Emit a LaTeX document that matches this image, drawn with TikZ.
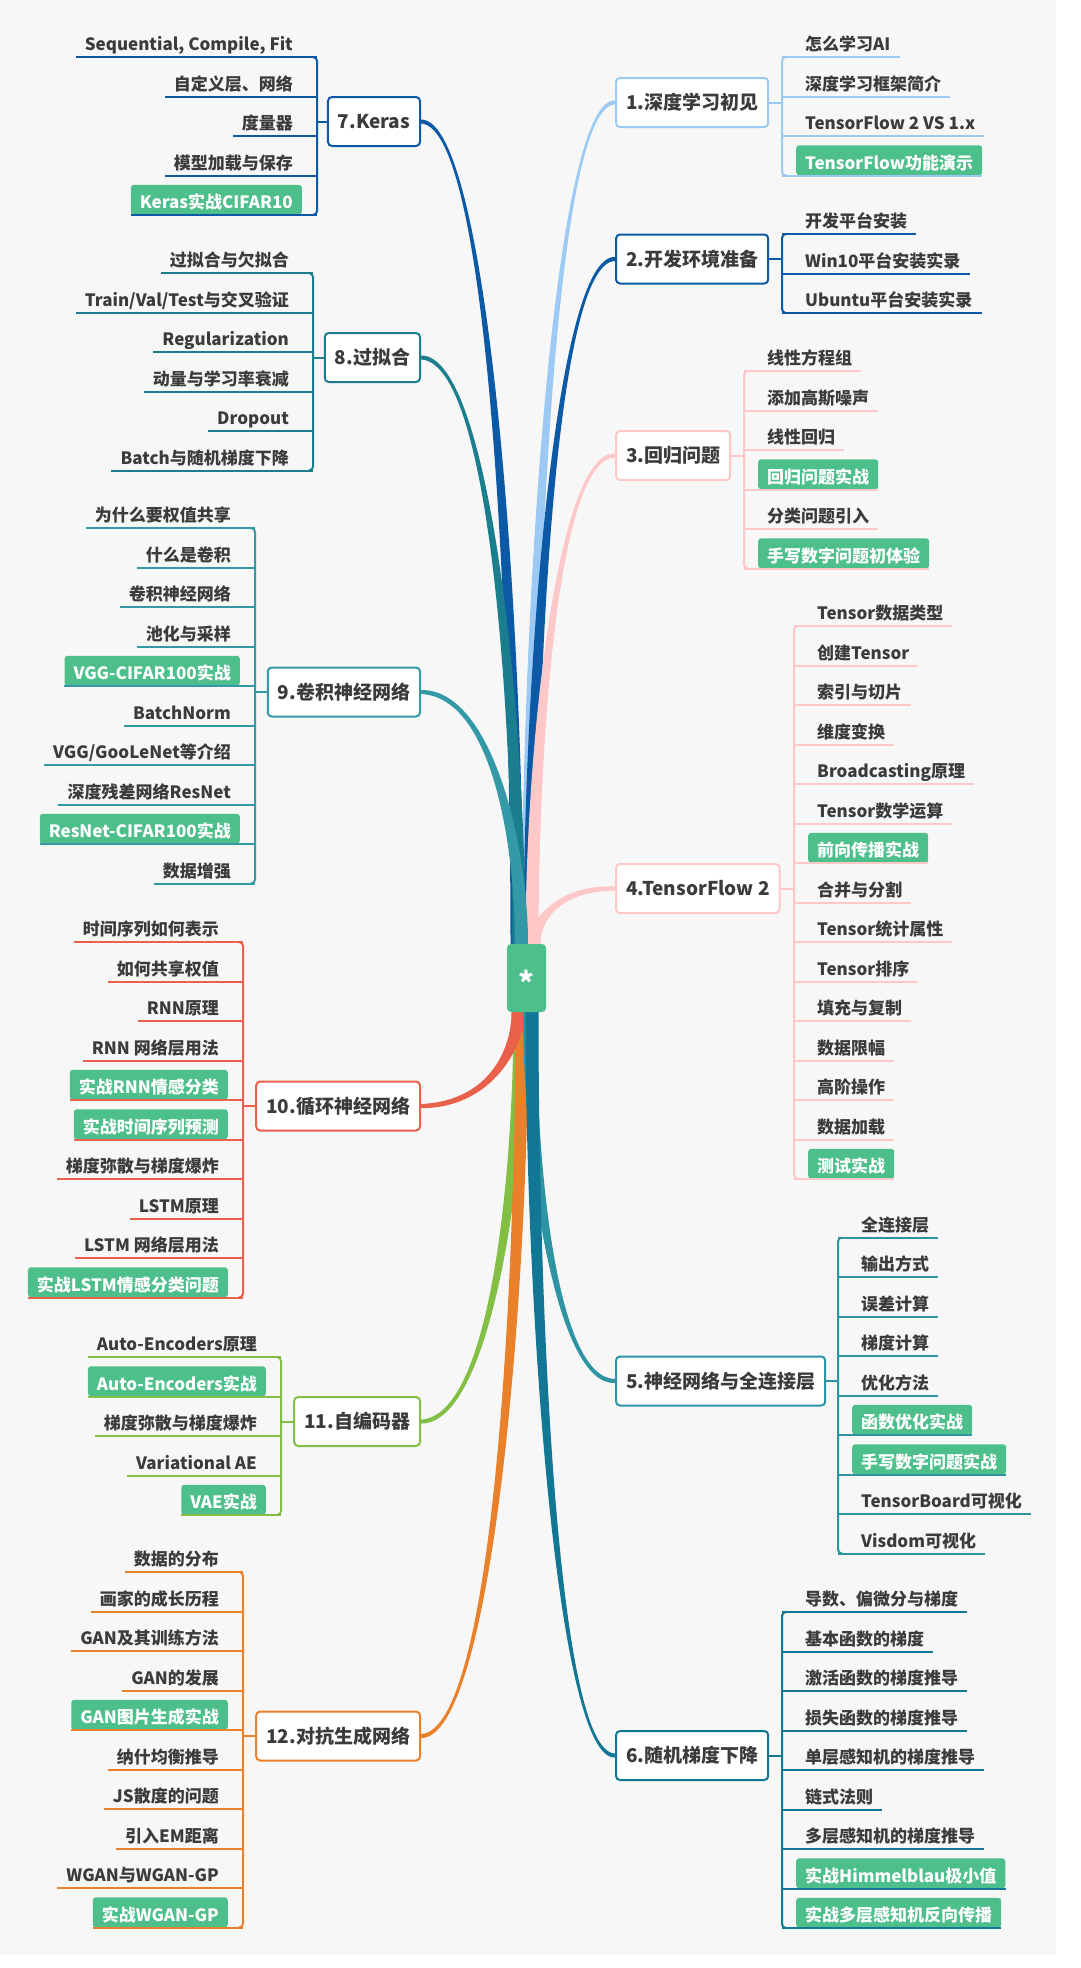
\documentclass[tikz,border=0pt]{standalone}
\usepackage{fontspec}
\setmainfont{Noto Sans CJK SC}
\usetikzlibrary{calc}
\pgfdeclarelayer{back}
\pgfdeclarelayer{stems}
\pgfsetlayers{back,stems,main}
\definecolor{bgc}{HTML}{F7F7F7}
\definecolor{txt}{HTML}{3B3B3B}
\definecolor{gfill}{HTML}{4DBF8B}
\definecolor{c1}{HTML}{9CCAF5}
\definecolor{c2}{HTML}{0C5AA6}
\definecolor{c3}{HTML}{FFC8C8}
\definecolor{c5}{HTML}{2E93A3}
\definecolor{c6}{HTML}{127794}
\definecolor{c8}{HTML}{1A7E8E}
\definecolor{c9}{HTML}{3499A7}
\definecolor{c10}{HTML}{E9604B}
\definecolor{c11}{HTML}{82BF44}
\definecolor{c12}{HTML}{E9802A}
\tikzset{
  leaf/.style={font=\fontsize{17}{20}\selectfont\bfseries, text=txt, inner xsep=9pt, inner ysep=0pt, text height=24pt, text depth=6pt},
  gleaf/.style={leaf, fill=gfill, text=white, rounded corners=3pt},
  mbox/.style={draw=#1, line width=2pt, fill=white, rounded corners=4pt, font=\fontsize{19}{22}\selectfont\bfseries, text=txt, inner xsep=10pt, inner ysep=0pt, minimum height=49pt},
  ul/.style={draw=#1, line width=2pt},
  hub/.style={fill=gfill, rounded corners=4pt, minimum width=39pt, minimum height=68pt, inner sep=0pt, text=white, font=\fontsize{30}{30}\selectfont\bfseries, text height=40pt, text depth=7pt}
}
% right-side leaf: name, bracket x, underline y, style, text
\newcommand\LR[5]{\node[#4, anchor=south west] (#1) at ({#2+14},#3) {#5};
  \draw[ul=\bc] (#2,#3) -- (#1.south east);}
% left-side leaf
\newcommand\LL[5]{\node[#4, anchor=south east] (#1) at ({#2-15},#3) {#5};
  \draw[ul=\bc] (#2,#3) -- (#1.south west);}
% tapered stem: colour, hub anchor, x offset, box anchor, sign (+1/-1)
\newcommand\stem[5]{\fill[#1] let \p1=($(#2)+(#3,0)$), \p2=(#4) in
  (\x1-6.5,\y1) .. controls (\x1-6.5,{\y2+0.6*(\y1-\y2)}) and ({\x2+0.7*(\x1-\x2)},{\y2+5*(#5)}) .. (\x2,{\y2+2*(#5)})
  -- (\x2,{\y2-2*(#5)}) .. controls ({\x2+0.7*(\x1-\x2)},{\y2-3*(#5)}) and (\x1+6.5,{\y2+0.6*(\y1-\y2)}) .. (\x1+6.5,\y1) -- cycle;}
\begin{document}
\begin{tikzpicture}[x=1pt,y=-1pt]
\useasboundingbox (0,0) rectangle (1080,1968);
\begin{pgfonlayer}{back}
\fill[white] (0,0) rectangle (1080,1968);
\fill[bgc] (0,0) rectangle (1056,1955);
\end{pgfonlayer}

\node[hub] (c) at (526.5,978) {*};

% ---------- Branch 1
\def\bc{c1}
\node[mbox=c1, anchor=west] (n1) at (615,102.5) {1.深度学习初见};
\coordinate (k1) at (782,102.5);
\LR{a1}{782}{57}{leaf}{怎么学习AI}
\LR{a2}{782}{96.5}{leaf}{深度学习框架简介}
\LR{a3}{782}{136}{leaf}{TensorFlow 2 VS 1.x}
\LR{a4}{782}{175.5}{gleaf}{TensorFlow功能演示}
\draw[ul=c1, rounded corners=4pt] (786,57) -- (782,57) -- (782,175.5) -- (786,175.5);
\draw[ul=c1] (n1.east) -- (k1);

% ---------- Branch 2
\def\bc{c2}
\node[mbox=c2, anchor=west] (n2) at (615,259) {2.开发环境准备};
\coordinate (k2) at (782,259);
\LR{b1}{782}{234}{leaf}{开发平台安装}
\LR{b2}{782}{273.5}{leaf}{Win10平台安装实录}
\LR{b3}{782}{313}{leaf}{Ubuntu平台安装实录}
\draw[ul=c2, rounded corners=4pt] (786,234) -- (782,234) -- (782,313) -- (786,313);
\draw[ul=c2] (n2.east) -- (k2);

% ---------- Branch 3
\def\bc{c3}
\node[mbox=c3, anchor=west] (n3) at (615,455.5) {3.回归问题};
\coordinate (k3) at (744,455.5);
\LR{d1}{744}{371}{leaf}{线性方程组}
\LR{d2}{744}{410.5}{leaf}{添加高斯噪声}
\LR{d3}{744}{450}{leaf}{线性回归}
\LR{d4}{744}{489.5}{gleaf}{回归问题实战}
\LR{d5}{744}{529}{leaf}{分类问题引入}
\LR{d6}{744}{568.5}{gleaf}{手写数字问题初体验}
\draw[ul=c3, rounded corners=4pt] (748,371) -- (744,371) -- (744,568.5) -- (748,568.5);
\draw[ul=c3] (n3.east) -- (k3);

% ---------- Branch 4
\def\bc{c3}
\node[mbox=c3, anchor=west] (n4) at (615,888.5) {4.TensorFlow 2};
\coordinate (k4) at (794,888.5);
\LR{e1}{794}{626}{leaf}{Tensor数据类型}
\LR{e2}{794}{665.5}{leaf}{创建Tensor}
\LR{e3}{794}{705}{leaf}{索引与切片}
\LR{e4}{794}{744.5}{leaf}{维度变换}
\LR{e5}{794}{784}{leaf}{Broadcasting原理}
\LR{e6}{794}{823.5}{leaf}{Tensor数学运算}
\LR{e7}{794}{863}{gleaf}{前向传播实战}
\LR{e8}{794}{902.5}{leaf}{合并与分割}
\LR{e9}{794}{942}{leaf}{Tensor统计属性}
\LR{e10}{794}{981.5}{leaf}{Tensor排序}
\LR{e11}{794}{1021}{leaf}{填充与复制}
\LR{e12}{794}{1060.5}{leaf}{数据限幅}
\LR{e13}{794}{1100}{leaf}{高阶操作}
\LR{e14}{794}{1139.5}{leaf}{数据加载}
\LR{e15}{794}{1179}{gleaf}{测试实战}
\draw[ul=c3, rounded corners=4pt] (798,626) -- (794,626) -- (794,1179) -- (798,1179);
\draw[ul=c3] (n4.east) -- (k4);

% ---------- Branch 5
\def\bc{c5}
\node[mbox=c5, anchor=west] (n5) at (615,1381) {5.神经网络与全连接层};
\coordinate (k5) at (838,1381);
\LR{f1}{838}{1237.5}{leaf}{全连接层}
\LR{f2}{838}{1277}{leaf}{输出方式}
\LR{f3}{838}{1316.5}{leaf}{误差计算}
\LR{f4}{838}{1356}{leaf}{梯度计算}
\LR{f5}{838}{1395.5}{leaf}{优化方法}
\LR{f6}{838}{1435}{gleaf}{函数优化实战}
\LR{f7}{838}{1474.5}{gleaf}{手写数字问题实战}
\LR{f8}{838}{1514}{leaf}{TensorBoard可视化}
\LR{f9}{838}{1553.5}{leaf}{Visdom可视化}
\draw[ul=c5, rounded corners=4pt] (842,1237.5) -- (838,1237.5) -- (838,1553.5) -- (842,1553.5);
\draw[ul=c5] (n5.east) -- (k5);

% ---------- Branch 6
\def\bc{c6}
\node[mbox=c6, anchor=west] (n6) at (615,1755.5) {6.随机梯度下降};
\coordinate (k6) at (782,1755.5);
\LR{g1}{782}{1612}{leaf}{导数、偏微分与梯度}
\LR{g2}{782}{1651.5}{leaf}{基本函数的梯度}
\LR{g3}{782}{1691}{leaf}{激活函数的梯度推导}
\LR{g4}{782}{1730.5}{leaf}{损失函数的梯度推导}
\LR{g5}{782}{1770}{leaf}{单层感知机的梯度推导}
\LR{g6}{782}{1809.5}{leaf}{链式法则}
\LR{g7}{782}{1849}{leaf}{多层感知机的梯度推导}
\LR{g8}{782}{1888.5}{gleaf}{实战Himmelblau极小值}
\LR{g9}{782}{1928}{gleaf}{实战多层感知机反向传播}
\draw[ul=c6, rounded corners=4pt] (786,1612) -- (782,1612) -- (782,1928) -- (786,1928);
\draw[ul=c6] (n6.east) -- (k6);

% ---------- Branch 7
\def\bc{c2}
\node[mbox=c2, anchor=east] (n7) at (421,121.5) {7.Keras};
\coordinate (k7) at (317,121.5);
\LL{h1}{317}{57}{leaf}{Sequential, Compile, Fit}
\LL{h2}{317}{96.5}{leaf}{自定义层、网络}
\LL{h3}{317}{136}{leaf}{度量器}
\LL{h4}{317}{175.5}{leaf}{模型加载与保存}
\LL{h5}{317}{215}{gleaf}{Keras实战CIFAR10}
\draw[ul=c2, rounded corners=4pt] (313,57) -- (317,57) -- (317,215) -- (313,215);
\draw[ul=c2] (n7.west) -- (k7);

% ---------- Branch 8
\def\bc{c8}
\node[mbox=c8, anchor=east] (n8) at (421,357.5) {8.过拟合};
\coordinate (k8) at (313,357.5);
\LL{i1}{313}{273}{leaf}{过拟合与欠拟合}
\LL{i2}{313}{312.5}{leaf}{Train/Val/Test与交叉验证}
\LL{i3}{313}{352}{leaf}{Regularization}
\LL{i4}{313}{391.5}{leaf}{动量与学习率衰减}
\LL{i5}{313}{431}{leaf}{Dropout}
\LL{i6}{313}{470.5}{leaf}{Batch与随机梯度下降}
\draw[ul=c8, rounded corners=4pt] (309,273) -- (313,273) -- (313,470.5) -- (309,470.5);
\draw[ul=c8] (n8.west) -- (k8);

% ---------- Branch 9
\def\bc{c9}
\node[mbox=c9, anchor=east] (n9) at (421,692) {9.卷积神经网络};
\coordinate (k9) at (255,692);
\LL{j1}{255}{528}{leaf}{为什么要权值共享}
\LL{j2}{255}{567.5}{leaf}{什么是卷积}
\LL{j3}{255}{607}{leaf}{卷积神经网络}
\LL{j4}{255}{646.5}{leaf}{池化与采样}
\LL{j5}{255}{686}{gleaf}{VGG-CIFAR100实战}
\LL{j6}{255}{725.5}{leaf}{BatchNorm}
\LL{j7}{255}{765}{leaf}{VGG/GooLeNet等介绍}
\LL{j8}{255}{804.5}{leaf}{深度残差网络ResNet}
\LL{j9}{255}{844}{gleaf}{ResNet-CIFAR100实战}
\LL{j10}{255}{883.5}{leaf}{数据增强}
\draw[ul=c9, rounded corners=4pt] (251,528) -- (255,528) -- (255,883.5) -- (251,883.5);
\draw[ul=c9] (n9.west) -- (k9);

% ---------- Branch 10
\def\bc{c10}
\node[mbox=c10, anchor=east] (n10) at (421,1106) {10.循环神经网络};
\coordinate (k10) at (243,1106);
\LL{m1}{243}{942}{leaf}{时间序列如何表示}
\LL{m2}{243}{981.5}{leaf}{如何共享权值}
\LL{m3}{243}{1021}{leaf}{RNN原理}
\LL{m4}{243}{1060.5}{leaf}{RNN 网络层用法}
\LL{m5}{243}{1100}{gleaf}{实战RNN情感分类}
\LL{m6}{243}{1139.5}{gleaf}{实战时间序列预测}
\LL{m7}{243}{1179}{leaf}{梯度弥散与梯度爆炸}
\LL{m8}{243}{1218.5}{leaf}{LSTM原理}
\LL{m9}{243}{1258}{leaf}{LSTM 网络层用法}
\LL{m10}{243}{1297.5}{gleaf}{实战LSTM情感分类问题}
\draw[ul=c10, rounded corners=4pt] (239,942) -- (243,942) -- (243,1297.5) -- (239,1297.5);
\draw[ul=c10] (n10.west) -- (k10);

% ---------- Branch 11
\def\bc{c11}
\node[mbox=c11, anchor=east] (n11) at (421,1421.5) {11.自编码器};
\coordinate (k11) at (281,1421.5);
\LL{p1}{281}{1357}{leaf}{Auto-Encoders原理}
\LL{p2}{281}{1396.5}{gleaf}{Auto-Encoders实战}
\LL{p3}{281}{1436}{leaf}{梯度弥散与梯度爆炸}
\LL{p4}{281}{1475.5}{leaf}{Variational AE}
\LL{p5}{281}{1515}{gleaf}{VAE实战}
\draw[ul=c11, rounded corners=4pt] (277,1357) -- (281,1357) -- (281,1515) -- (277,1515);
\draw[ul=c11] (n11.west) -- (k11);

% ---------- Branch 12
\def\bc{c12}
\node[mbox=c12, anchor=east] (n12) at (421,1736) {12.对抗生成网络};
\coordinate (k12) at (243,1736);
\LL{q1}{243}{1572}{leaf}{数据的分布}
\LL{q2}{243}{1611.5}{leaf}{画家的成长历程}
\LL{q3}{243}{1651}{leaf}{GAN及其训练方法}
\LL{q4}{243}{1690.5}{leaf}{GAN的发展}
\LL{q5}{243}{1730}{gleaf}{GAN图片生成实战}
\LL{q6}{243}{1769.5}{leaf}{纳什均衡推导}
\LL{q7}{243}{1809}{leaf}{JS散度的问题}
\LL{q8}{243}{1848.5}{leaf}{引入EM距离}
\LL{q9}{243}{1888}{leaf}{WGAN与WGAN-GP}
\LL{q10}{243}{1927.5}{gleaf}{实战WGAN-GP}
\draw[ul=c12, rounded corners=4pt] (239,1572) -- (243,1572) -- (243,1927.5) -- (239,1927.5);
\draw[ul=c12] (n12.west) -- (k12);

% ---------- stems
\begin{pgfonlayer}{stems}
\stem{c1}{c.north}{1.5}{n1.west}{1}
\stem{c2}{c.north}{3.5}{n2.west}{1}
\stem{c3}{c.north}{5.5}{n3.west}{1}
\stem{c2}{c.north}{-9.5}{n7.east}{-1}
\stem{c8}{c.north}{-7.5}{n8.east}{-1}
\stem{c3}{c.north}{7.5}{n4.west}{1}
\stem{c9}{c.north}{-5}{n9.east}{-1}
\stem{c11}{c.south}{-6.5}{n11.east}{1}
\stem{c12}{c.south}{-4.5}{n12.east}{1}
\stem{c10}{c.south}{-8.5}{n10.east}{1}
\stem{c5}{c.south}{3}{n5.west}{-1}
\stem{c6}{c.south}{5.5}{n6.west}{-1}
\end{pgfonlayer}
\end{tikzpicture}
\end{document}
